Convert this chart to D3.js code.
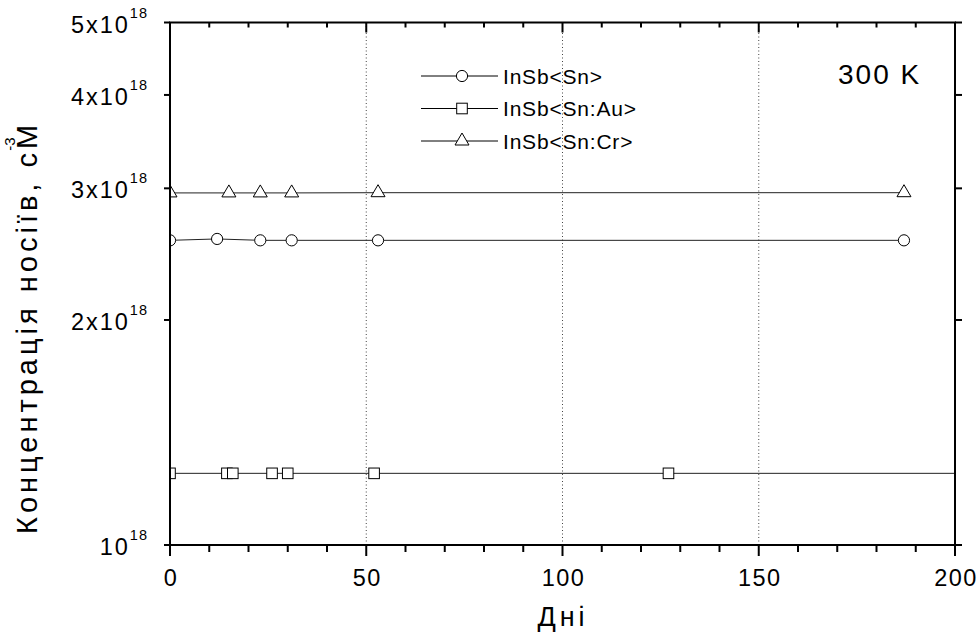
<!DOCTYPE html>
<html>
<head>
<meta charset="utf-8">
<script src="https://cdn.jsdelivr.net/npm/d3@7"></script>
<style>
  html, body { margin: 0; padding: 0; background: #fff; }
  svg { display: block; font-family: "Liberation Sans", Arial, sans-serif; }
</style>
</head>
<body>
<svg id="chart" width="977" height="638"></svg>
<script>
// Carrier concentration vs. time (days) at 300 K
const seriesNames = ["InSb<Sn>", "InSb<Sn:Au>", "InSb<Sn:Cr>"];

const snDays   = [0, 12, 23, 31, 53, 187];
const snValues = [2.556e18, 2.567e18, 2.556e18, 2.556e18, 2.556e18, 2.556e18];

const auDays   = [0, 14.5, 16, 26, 30, 52, 127, 230];
const auValues = [1.247e18, 1.247e18, 1.247e18, 1.247e18, 1.247e18, 1.247e18, 1.247e18, 1.247e18];

const crDays   = [0, 15, 23, 31, 53, 187];
const crValues = [2.958e18, 2.958e18, 2.958e18, 2.958e18, 2.96e18, 2.96e18];

const xTicks = [0, 50, 100, 150, 200];
const xMinorTicks = d3.range(0, 201, 10);
const gridDays = [50, 100, 150];
const yTicks = [1e18, 2e18, 3e18, 4e18, 5e18];
const yTickMantissa = ["10", "2x10", "3x10", "4x10", "5x10"];
const yTickExponent = "18";

const svg = d3.select("#chart");
const plot = { left: 170, right: 955, top: 22.5, bottom: 545 };

const x = d3.scaleLinear().domain([0, 200]).range([plot.left, plot.right]);
const y = d3.scaleLog().domain([1e18, 5e18]).range([plot.bottom, plot.top]);

svg.append("defs").append("clipPath").attr("id", "plotClip")
  .append("rect")
  .attr("x", plot.left).attr("y", plot.top)
  .attr("width", plot.right - plot.left).attr("height", plot.bottom - plot.top);

// dotted vertical grid
svg.append("g").selectAll("line").data(gridDays).join("line")
  .attr("x1", d => x(d)).attr("x2", d => x(d))
  .attr("y1", plot.top).attr("y2", plot.bottom)
  .attr("stroke", "#444").attr("stroke-width", 1)
  .attr("stroke-dasharray", "1,2.5");

// series
const series = [
  { days: snDays, values: snValues, symbol: "circle" },
  { days: auDays, values: auValues, symbol: "square" },
  { days: crDays, values: crValues, symbol: "triangle" }
];

function drawSymbol(g, kind) {
  if (kind === "circle") {
    g.append("circle").attr("r", 5.6);
  } else if (kind === "square") {
    g.append("rect").attr("x", -5.3).attr("y", -5.3).attr("width", 10.6).attr("height", 10.6);
  } else {
    g.append("path").attr("d", "M0,-8 L7,4 L-7,4 Z");
  }
  g.selectAll("*").attr("fill", "#fff").attr("stroke", "#000").attr("stroke-width", 1);
}

const dataLayer = svg.append("g").attr("clip-path", "url(#plotClip)");
const line = d3.line().x(d => x(d[0])).y(d => y(d[1]));

series.forEach(s => {
  const pts = s.days.map((d, i) => [d, s.values[i]]);
  dataLayer.append("path").datum(pts)
    .attr("d", line).attr("fill", "none")
    .attr("stroke", "#222").attr("stroke-width", 1);
  dataLayer.append("g").selectAll("g").data(pts).join("g")
    .attr("transform", d => `translate(${x(d[0])},${y(d[1])})`)
    .each(function () { drawSymbol(d3.select(this), s.symbol); });
});

// frame
const frame = svg.append("g").attr("stroke", "#000").attr("stroke-width", 2).attr("fill", "none");
frame.append("rect")
  .attr("x", plot.left).attr("y", plot.top)
  .attr("width", plot.right - plot.left).attr("height", plot.bottom - plot.top);

// bottom ticks (outward) and top ticks (inward)
const ticks = svg.append("g").attr("stroke", "#000").attr("stroke-width", 2);
xMinorTicks.forEach(d => {
  const major = d % 50 === 0;
  ticks.append("line")
    .attr("x1", x(d)).attr("x2", x(d))
    .attr("y1", plot.bottom).attr("y2", plot.bottom + (major ? 11 : 7));
  ticks.append("line")
    .attr("x1", x(d)).attr("x2", x(d))
    .attr("y1", plot.top).attr("y2", plot.top + (major ? 10 : 5));
});
// left and right ticks (outward)
yTicks.forEach(v => {
  ticks.append("line").attr("x1", plot.left - 6).attr("x2", plot.left)
    .attr("y1", y(v)).attr("y2", y(v));
  ticks.append("line").attr("x1", plot.right).attr("x2", plot.right + 7)
    .attr("y1", y(v)).attr("y2", y(v));
});

// x tick labels
svg.append("g").selectAll("text").data(xTicks).join("text")
  .attr("x", d => x(d) + 1).attr("y", plot.bottom + 41)
  .attr("text-anchor", "middle")
  .attr("font-size", 23.5).attr("letter-spacing", 1.5)
  .attr("fill", "#000")
  .text(d => d);

// y tick labels with exponent
yTicks.forEach((v, i) => {
  const t = svg.append("text")
    .attr("x", 148).attr("y", y(v) + 10)
    .attr("text-anchor", "end").attr("fill", "#000");
  t.append("tspan").attr("font-size", 23.5).attr("letter-spacing", 2).text(yTickMantissa[i]);
  t.append("tspan").attr("font-size", 14.5).attr("letter-spacing", 1)
    .attr("dy", -15).text(yTickExponent);
});

// axis titles
svg.append("text")
  .attr("x", 563).attr("y", 626)
  .attr("text-anchor", "middle")
  .attr("font-size", 27).attr("letter-spacing", 4)
  .attr("fill", "#000")
  .text("Дні");

const yTitle = svg.append("text")
  .attr("transform", "translate(37,534) rotate(-90)")
  .attr("text-anchor", "start").attr("fill", "#000");
yTitle.append("tspan").attr("font-size", 29).attr("letter-spacing", 4)
  .text("Концентрація носіїв, сМ");
yTitle.append("tspan").attr("font-size", 15).attr("dx", -30).attr("dy", -22).text("-3");

// legend
const legendRows = [76, 108.5, 141];
const legend = svg.append("g");
series.forEach((s, i) => {
  const g = legend.append("g").attr("transform", `translate(0,${legendRows[i]})`);
  g.append("line").attr("x1", 421).attr("x2", 498).attr("y1", 0).attr("y2", 0)
    .attr("stroke", "#000").attr("stroke-width", 1);
  const m = g.append("g").attr("transform", "translate(462,0)");
  drawSymbol(m, s.symbol);
  g.append("text").attr("x", 503).attr("y", 7.5)
    .attr("font-size", 21).attr("letter-spacing", 0.8).attr("fill", "#000")
    .text(seriesNames[i]);
});

// temperature note
svg.append("text")
  .attr("x", 838).attr("y", 84)
  .attr("font-size", 28).attr("letter-spacing", 2).attr("fill", "#000")
  .text("300 K");
</script>
</body>
</html>
